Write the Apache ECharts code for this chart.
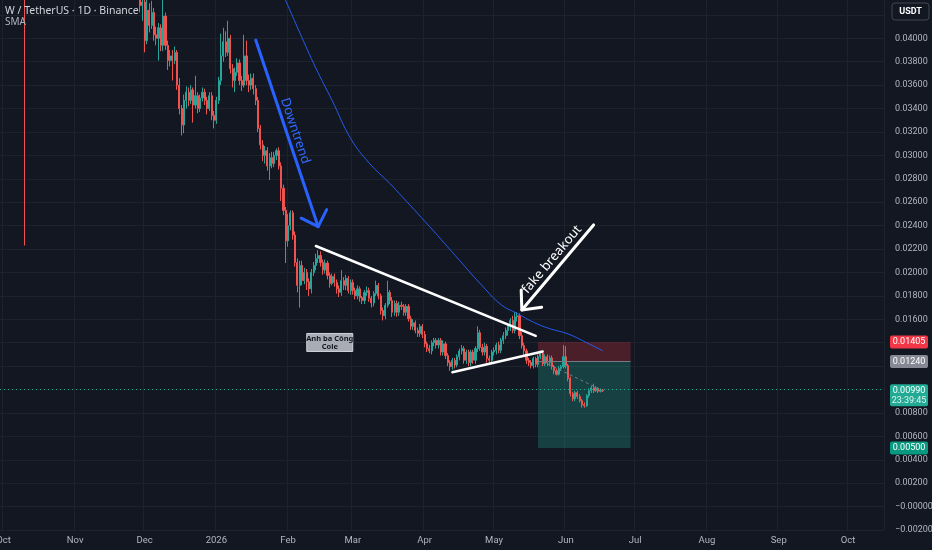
<!DOCTYPE html>
<html><head><meta charset="utf-8">
<script src="https://cdn.jsdelivr.net/npm/echarts@6/dist/echarts.min.js"></script>
<style>html,body{margin:0;padding:0;background:#131722;}#c{width:932px;height:550px;}</style>
</head><body><div id="c"></div>
<script>
// ---------- data ----------
const firstDay = [2025, 8, 30];   // 2025-09-30 (first category)
const dayCount = 382;             // through 2026-10-16
const monthLabels = ['Jan','Feb','Mar','Apr','May','Jun','Jul','Aug','Sep','Oct','Nov','Dec'];

// daily candles [open, close, low, high], starting 2025-09-30
const candles = [
[0.066,0.067,0.064,0.068],
[0.067,0.068,0.066,0.069],[0.068,0.070,0.067,0.071],[0.070,0.069,0.068,0.072],[0.069,0.071,0.068,0.072],
[0.071,0.070,0.069,0.072],[0.070,0.068,0.067,0.071],[0.068,0.066,0.065,0.069],[0.066,0.065,0.064,0.067],
[0.065,0.063,0.062,0.066],[0.063,0.050,0.0223,0.064],[0.050,0.053,0.048,0.054],[0.053,0.055,0.051,0.057],
[0.055,0.052,0.051,0.056],[0.052,0.053,0.050,0.054],[0.053,0.050,0.049,0.054],[0.050,0.048,0.047,0.051],
[0.048,0.047,0.045,0.049],[0.047,0.049,0.046,0.050],[0.049,0.051,0.048,0.052],[0.051,0.050,0.049,0.052],
[0.050,0.052,0.049,0.053],[0.052,0.051,0.050,0.053],[0.051,0.050,0.049,0.052],[0.050,0.052,0.049,0.053],
[0.052,0.053,0.051,0.054],[0.053,0.051,0.050,0.054],[0.051,0.050,0.049,0.052],[0.050,0.049,0.048,0.051],
[0.049,0.048,0.047,0.050],[0.048,0.049,0.047,0.050],[0.049,0.047,0.046,0.050],
[0.047,0.048,0.046,0.049],[0.048,0.046,0.045,0.049],[0.046,0.047,0.045,0.048],[0.047,0.049,0.046,0.050],
[0.049,0.050,0.048,0.051],[0.050,0.048,0.047,0.051],[0.048,0.049,0.047,0.050],[0.049,0.050,0.048,0.051],
[0.050,0.049,0.048,0.051],[0.049,0.051,0.048,0.052],[0.051,0.050,0.049,0.052],[0.050,0.049,0.048,0.051],
[0.049,0.048,0.047,0.050],[0.048,0.047,0.046,0.049],[0.047,0.046,0.045,0.048],[0.046,0.047,0.045,0.048],
[0.047,0.048,0.046,0.049],[0.048,0.047,0.046,0.049],[0.047,0.046,0.045,0.048],[0.046,0.047,0.045,0.048],
[0.047,0.046,0.045,0.048],[0.046,0.0455,0.0445,0.047],[0.0455,0.046,0.0448,0.047],[0.046,0.045,0.0442,0.0465],
[0.045,0.0455,0.0443,0.0462],[0.0455,0.0448,0.0440,0.046],[0.0448,0.0452,0.0441,0.0458],[0.0452,0.0440,0.0436,0.0456],
[0.0440,0.0428,0.0422,0.0445],[0.0428,0.0431,0.0415,0.0440],
[0.0431,0.0398,0.0388,0.0435],[0.0398,0.0424,0.0395,0.0433],[0.0424,0.0411,0.0405,0.0430],[0.0411,0.0422,0.0408,0.0432],
[0.0422,0.0403,0.0398,0.0426],[0.0403,0.0400,0.0394,0.0410],[0.0400,0.0409,0.0381,0.0413],[0.0409,0.0394,0.0389,0.0412],
[0.0394,0.0419,0.0389,0.0433],[0.0419,0.0394,0.0390,0.0422],[0.0394,0.0381,0.0373,0.0398],[0.0381,0.0385,0.0376,0.0390],
[0.0385,0.0381,0.0364,0.0390],[0.0381,0.0388,0.0378,0.0393],[0.0388,0.0360,0.0356,0.0390],[0.0360,0.0340,0.0335,0.0366],
[0.0340,0.0326,0.0317,0.0343],[0.0326,0.0347,0.0319,0.0352],[0.0347,0.0354,0.0340,0.0359],[0.0354,0.0347,0.0342,0.0358],
[0.0347,0.0356,0.0344,0.0360],[0.0356,0.0343,0.0328,0.0358],[0.0343,0.0351,0.0340,0.0368],[0.0351,0.0340,0.0336,0.0354],
[0.0340,0.0349,0.0337,0.0352],[0.0349,0.0354,0.0346,0.0358],[0.0354,0.0347,0.0343,0.0357],[0.0347,0.0340,0.0335,0.0350],
[0.0340,0.0351,0.0338,0.0354],[0.0351,0.0334,0.0330,0.0354],[0.0334,0.0330,0.0323,0.0338],
[0.0330,0.0347,0.0327,0.0350],[0.0347,0.0364,0.0344,0.0367],[0.0364,0.0385,0.0360,0.0404],[0.0385,0.0397,0.0380,0.0409],
[0.0397,0.0388,0.0384,0.0406],[0.0388,0.0400,0.0385,0.0415],[0.0400,0.0374,0.0370,0.0403],[0.0374,0.0364,0.0358,0.0378],
[0.0364,0.0371,0.0354,0.0375],[0.0371,0.0379,0.0368,0.0383],[0.0379,0.0364,0.0360,0.0382],[0.0364,0.0360,0.0355,0.0368],
[0.0360,0.0385,0.0358,0.0403],[0.0385,0.0364,0.0360,0.0398],[0.0364,0.0360,0.0354,0.0369],[0.0360,0.0366,0.0356,0.0370],
[0.0366,0.0357,0.0352,0.0370],[0.0357,0.0347,0.0343,0.0360],[0.0347,0.0323,0.0320,0.0350],[0.0323,0.0309,0.0305,0.0326],
[0.0309,0.0300,0.0295,0.0313],[0.0300,0.0304,0.0293,0.0308],[0.0304,0.0291,0.0287,0.0307],[0.0291,0.0298,0.0279,0.0302],
[0.0298,0.0293,0.0289,0.0303],[0.0293,0.0300,0.0290,0.0303],[0.0300,0.0304,0.0296,0.0306],[0.0304,0.0291,0.0288,0.0307],
[0.0291,0.0272,0.0261,0.0294],[0.0272,0.0253,0.0249,0.0275],[0.0253,0.0227,0.0208,0.0256],
[0.0227,0.0240,0.0222,0.0250],[0.0240,0.0251,0.0236,0.0253],[0.0251,0.0232,0.0228,0.0253],[0.0232,0.02085,0.0205,0.0235],
[0.02085,0.0189,0.0183,0.0212],[0.0189,0.0206,0.0170,0.0210],[0.0206,0.0193,0.0189,0.0210],[0.0193,0.0200,0.0190,0.0204],
[0.0200,0.0192,0.0185,0.0203],[0.0192,0.0186,0.0180,0.0195],[0.0186,0.0200,0.0182,0.0203],[0.0200,0.0206,0.0197,0.0209],
[0.0206,0.0212,0.0202,0.0216],[0.0212,0.02145,0.0208,0.0219],[0.02145,0.02085,0.0205,0.0218],[0.02085,0.0202,0.0198,0.0211],
[0.0202,0.0208,0.0199,0.0211],[0.0208,0.01975,0.0194,0.0210],[0.01975,0.01905,0.0187,0.0200],[0.01905,0.01965,0.0189,0.0199],
[0.01965,0.01915,0.0188,0.0199],[0.01915,0.0186,0.0182,0.0194],[0.0186,0.0183,0.0179,0.0189],[0.0183,0.0193,0.0180,0.0202],
[0.0193,0.0189,0.0185,0.0196],[0.0189,0.0195,0.0185,0.0198],[0.0195,0.01845,0.0182,0.0197],[0.01845,0.01915,0.0181,0.0194],
[0.01915,0.01845,0.0181,0.0194],[0.01845,0.0180,0.0177,0.0187],[0.0180,0.0186,0.0177,0.0189],[0.0186,0.01785,0.0175,0.0188],
[0.01785,0.0176,0.0173,0.0180],[0.0176,0.0183,0.0173,0.0185],[0.0183,0.01845,0.0180,0.0188],[0.01845,0.0178,0.0175,0.0187],
[0.0178,0.0174,0.0170,0.0180],[0.0174,0.0182,0.0171,0.0184],[0.0182,0.0189,0.0180,0.0193],[0.0189,0.0180,0.0177,0.0191],
[0.0180,0.01675,0.0164,0.0182],[0.01675,0.0163,0.0159,0.0170],[0.0163,0.0172,0.0160,0.0174],[0.0172,0.0183,0.0170,0.0193],
[0.0183,0.0176,0.0173,0.0185],[0.0176,0.0166,0.0162,0.0179],[0.0166,0.01735,0.0163,0.0176],[0.01735,0.0166,0.0162,0.0176],
[0.0166,0.0172,0.0163,0.0175],[0.0172,0.0171,0.0168,0.0175],[0.0171,0.0166,0.0163,0.0173],[0.0166,0.0171,0.0163,0.0173],
[0.0171,0.01605,0.0158,0.0173],[0.01605,0.0154,0.0151,0.0163],[0.0154,0.0157,0.0151,0.0160],[0.0157,0.01505,0.0148,0.0159],
[0.01505,0.0148,0.0145,0.0153],[0.0148,0.0154,0.0145,0.0156],[0.0154,0.0147,0.0144,0.0156],
[0.0147,0.0139,0.0136,0.0150],[0.0139,0.0135,0.0132,0.0141],[0.0135,0.0133,0.0131,0.0138],[0.0133,0.0140,0.0130,0.0142],
[0.0140,0.0142,0.0137,0.0144],[0.0142,0.0138,0.0135,0.0144],[0.0138,0.0142,0.0135,0.0144],[0.0142,0.0132,0.0129,0.0144],
[0.0132,0.0139,0.0129,0.0142],[0.0139,0.0129,0.0126,0.0141],[0.0129,0.0123,0.0120,0.0131],[0.0123,0.01195,0.0116,0.0125],
[0.01195,0.0125,0.0117,0.0127],[0.0125,0.0121,0.0118,0.0127],[0.0121,0.0128,0.0119,0.0130],[0.0128,0.0133,0.0125,0.0135],
[0.0133,0.0135,0.0130,0.0138],[0.0135,0.0125,0.0122,0.0137],[0.0125,0.0132,0.0122,0.0134],[0.0132,0.0123,0.0120,0.0134],
[0.0123,0.0132,0.0120,0.0134],[0.0132,0.0125,0.0122,0.0134],[0.0125,0.0135,0.0122,0.0137],[0.0135,0.01485,0.0132,0.0154],
[0.01485,0.0136,0.0133,0.0151],[0.0136,0.0132,0.0129,0.0139],[0.0132,0.0137,0.0129,0.0140],[0.0137,0.01265,0.0123,0.0139],
[0.01265,0.0125,0.0123,0.0129],[0.0125,0.0132,0.0122,0.0134],
[0.0132,0.01335,0.0129,0.0136],[0.01335,0.0138,0.0130,0.0140],[0.0138,0.01335,0.0131,0.0141],[0.01335,0.0142,0.0131,0.0144],
[0.0142,0.0146,0.0139,0.0149],[0.0146,0.01505,0.0143,0.0153],[0.01505,0.0154,0.0146,0.0156],[0.0154,0.0159,0.0150,0.0161],
[0.0159,0.01505,0.0148,0.0163],[0.01505,0.0162,0.0148,0.0166],[0.0162,0.0163,0.0158,0.0166],[0.0163,0.0146,0.0143,0.0165],
[0.0146,0.01375,0.0135,0.0149],[0.01375,0.0133,0.0129,0.0140],[0.0133,0.0125,0.0122,0.0135],[0.0125,0.0123,0.0120,0.0127],
[0.0123,0.01205,0.0118,0.0125],[0.01205,0.01265,0.0118,0.0128],[0.01265,0.01215,0.0119,0.0128],[0.01215,0.0128,0.0119,0.0130],
[0.0128,0.0131,0.0126,0.0133],[0.0131,0.0122,0.0120,0.0133],[0.0122,0.0128,0.0120,0.0130],[0.0128,0.0123,0.0120,0.0130],
[0.0123,0.0127,0.0120,0.0129],[0.0127,0.01195,0.0117,0.0129],[0.01195,0.0116,0.0113,0.0121],[0.0116,0.0113,0.0112,0.0118],
[0.0113,0.0118,0.0112,0.0120],[0.0118,0.01195,0.0116,0.0121],[0.01195,0.0128,0.0118,0.0138],
[0.0128,0.01205,0.0118,0.0137],[0.01205,0.01095,0.0107,0.0122],[0.01095,0.00965,0.0094,0.0111],[0.00965,0.0092,0.0090,0.0098],
[0.0092,0.00975,0.0090,0.0099],[0.00975,0.0094,0.0092,0.0099],[0.0094,0.00905,0.0089,0.0096],[0.00905,0.0087,0.00845,0.0092],
[0.0087,0.0086,0.00845,0.0089],[0.0086,0.0095,0.0085,0.0096],[0.0095,0.0099,0.0093,0.0101],[0.0099,0.01015,0.0097,0.0103],
[0.01015,0.0099,0.0097,0.0105],[0.0099,0.0101,0.0098,0.0103],[0.0101,0.00985,0.0097,0.0102],[0.00985,0.00995,0.00975,0.0101],
[0.00995,0.0099,0.0098,0.01005]
];

// SMA line [date, value]
const smaPoints = [
['2026-01-29',0.0440],['2026-01-31',0.0432],['2026-02-06',0.0405],['2026-02-13',0.03745],['2026-02-20',0.0347],
['2026-02-28',0.03145],['2026-03-08',0.02935],['2026-03-17',0.0276],['2026-03-21',0.02675],['2026-04-03',0.02395],
['2026-04-16',0.02105],['2026-04-25',0.01905],['2026-05-04',0.01725],['2026-05-11',0.0165],['2026-05-18',0.01575],
['2026-05-25',0.0152],['2026-06-02',0.01475],['2026-06-10',0.0140],['2026-06-17',0.0133]
];

// drawings (date, price)
const downtrendArrow = [['2026-01-18',0.03985],['2026-02-14',0.02391]];
const downtrendText = ['2026-02-04',0.0321];
const upperTrendline = [['2026-02-13',0.02226],['2026-05-19',0.01458]];
const lowerTrendline = [['2026-04-13',0.01148],['2026-05-22',0.01324]];
const fakeArrow = [['2026-06-13',0.02406],['2026-05-13',0.0168]];
const fakeText = ['2026-05-26',0.02110];
const noteLabel = ['2026-02-19',0.01402];
const positionBox = {start:'2026-05-20', end:'2026-06-29', entryDate:'2026-05-22', lastDate:'2026-06-17',
  stop:0.01405, entry:0.0124, target:0.005};
const lastPrice = 0.0099;
const priceTags = [
  {value:0.01405, text:'0.01405', color:'#f23645'},
  {value:0.0124, text:'0.01240', color:'#868993'},
  {value:0.0099, text:'0.00990', sub:'23:39:45', color:'#22ab94'},
  {value:0.005, text:'0.00500', color:'#089981'}
];

// ---------- build ----------
const categories = [];
for (let i = 0; i < dayCount; i++) {
  const d = new Date(Date.UTC(firstDay[0], firstDay[1], firstDay[2] + i));
  categories.push(d.toISOString().slice(0, 10));
}
const isMonthStart = (idx, val) => val.slice(8) === '01';
const UP = '#26a69a', DOWN = '#ef5350';
const FONT = '"Noto Sans", Roboto, sans-serif';
const AX = 'Roboto, "Noto Sans", sans-serif';

const chart = echarts.init(document.getElementById('c'), null, {renderer: 'canvas'});
chart.setOption({
  backgroundColor: '#131722',
  animation: false,
  grid: {left: 0, right: 48, top: -8.5, bottom: 20, outerBoundsMode: 'none'},
  xAxis: {
    type: 'category', data: categories, boundaryGap: true,
    axisLine: {show: false}, axisTick: {show: false, alignWithLabel: true},
    axisLabel: {
      interval: isMonthStart, color: '#b2b5be', fontSize: 9.5, fontFamily: AX, margin: 6,
      formatter: v => { const m = +v.slice(5, 7); return m === 1 ? v.slice(0, 4) : monthLabels[m - 1]; }
    },
    splitLine: {show: true, interval: isMonthStart, lineStyle: {color: '#1e222d', width: 1}}
  },
  yAxis: {
    type: 'value', position: 'right', min: -0.002, max: 0.044, interval: 0.002, scale: true,
    axisLine: {show: false}, axisTick: {show: false},
    axisLabel: {
      color: '#b2b5be', fontSize: 9, fontFamily: AX, margin: 11,
      formatter: v => (v <= 1e-12 ? '\u2212' : '') + Math.abs(v).toFixed(5)
    },
    splitLine: {lineStyle: {color: '#1e222d', width: 1}}
  },
  series: [
    {
      type: 'candlestick', data: candles, barWidth: '70%', clip: true,
      itemStyle: {color: UP, color0: DOWN, borderColor: UP, borderColor0: DOWN, borderWidth: 1},
      markArea: {
        silent: true,
        data: [
          [{xAxis: positionBox.start, yAxis: positionBox.stop, itemStyle: {color: 'rgba(242,54,69,0.25)'}},
           {xAxis: positionBox.end, yAxis: positionBox.entry}],
          [{xAxis: positionBox.start, yAxis: positionBox.entry, itemStyle: {color: 'rgba(34,171,148,0.28)'}},
           {xAxis: positionBox.end, yAxis: positionBox.target}]
        ]
      },
      markLine: {
        silent: true, symbol: ['none', 'none'], label: {show: false},
        data: [
          {yAxis: lastPrice, lineStyle: {color: '#22ab94', type: [1, 3], width: 1}},
          [{coord: [positionBox.start, positionBox.entry], lineStyle: {color: '#787b86', type: 'solid', width: 1}},
           {coord: [positionBox.end, positionBox.entry]}],
          [{coord: [positionBox.entryDate, positionBox.entry], lineStyle: {color: '#787b86', type: [3, 3], width: 1}},
           {coord: [positionBox.lastDate, lastPrice]}]
        ]
      }
    },
    {
      type: 'line', data: smaPoints, smooth: 0.4, symbol: 'none', clip: true,
      lineStyle: {color: '#2962ff', width: 1, opacity: 0.9}, z: 3
    }
  ]
});

// ---------- overlay drawings via the axes ----------
function px(pt) {
  const xi = categories.indexOf(pt[0]);
  return [chart.convertToPixel({xAxisIndex: 0}, xi), chart.convertToPixel({yAxisIndex: 0}, pt[1])];
}
function head(tip, from, len, deg) {
  const dx = from[0] - tip[0], dy = from[1] - tip[1], L = Math.hypot(dx, dy);
  const ux = dx / L, uy = dy / L, a = deg * Math.PI / 180, out = [];
  for (const s of [-1, 1]) {
    const c = Math.cos(s * a), sn = Math.sin(s * a);
    out.push([tip[0] + len * (ux * c - uy * sn), tip[1] + len * (ux * sn + uy * c)]);
  }
  return [out[0], tip, out[1]];
}
const g = [];
const seg = (a, b, color, w) => g.push({type: 'polyline', z: 50, shape: {points: [a, b]},
  style: {stroke: color, lineWidth: w, lineCap: 'round', fill: null}});

// blue downtrend arrow
const b0 = px(downtrendArrow[0]), b1 = px(downtrendArrow[1]);
seg(b0, b1, '#2962ff', 3);
g.push({type: 'polyline', z: 50, shape: {points: head(b1, b0, 19, 45)},
  style: {stroke: '#2962ff', lineWidth: 3, lineCap: 'round', lineJoin: 'round', fill: null}});
const dt = px(downtrendText);
g.push({type: 'text', z: 51, x: dt[0], y: dt[1], rotation: -Math.atan2(b1[1] - b0[1], b1[0] - b0[0]),
  style: {text: 'Downtrend', fill: '#2f6bff', font: '13px ' + FONT, textAlign: 'center', textVerticalAlign: 'middle'}});

// white trend lines
seg(px(upperTrendline[0]), px(upperTrendline[1]), '#ffffff', 2.5);
seg(px(lowerTrendline[0]), px(lowerTrendline[1]), '#ffffff', 2.5);

// fake breakout arrow
const w0 = px(fakeArrow[0]), w1 = px(fakeArrow[1]);
seg(w0, w1, '#ffffff', 3);
g.push({type: 'polyline', z: 50, shape: {points: head(w1, w0, 20, 42)},
  style: {stroke: '#ffffff', lineWidth: 3, lineCap: 'round', lineJoin: 'round', fill: null}});
const ft = px(fakeText);
g.push({type: 'text', z: 51, x: ft[0], y: ft[1], rotation: -Math.atan2(w0[1] - w1[1], w0[0] - w1[0]),
  style: {text: 'fake breakout', fill: '#ffffff', font: '13px ' + FONT, textAlign: 'center', textVerticalAlign: 'middle'}});

// note label
const nl = px(noteLabel);
g.push({type: 'rect', z: 52, shape: {x: nl[0] - 23, y: nl[1] - 9, width: 46, height: 18},
  style: {fill: '#a9acb4', stroke: '#d1d4dc', lineWidth: 1}});
g.push({type: 'text', z: 53, x: nl[0], y: nl[1] + 0.5,
  style: {text: 'Anh ba Công\nCole', fill: '#131722', font: 'bold 7.5px ' + FONT, lineHeight: 8.5,
    textAlign: 'center', textVerticalAlign: 'middle'}});

// price tags on the axis
priceTags.forEach(t => {
  const y = chart.convertToPixel({yAxisIndex: 0}, t.value);
  const h = t.sub ? 22 : 13;
  g.push({type: 'rect', z: 60, shape: {x: 890, y: y - 6.5, width: 38, height: h, r: 2}, style: {fill: t.color}});
  g.push({type: 'text', z: 61, x: 909, y: y, style: {text: t.text, fill: '#ffffff', font: '9px ' + AX,
    textAlign: 'center', textVerticalAlign: 'middle'}});
  if (t.sub) g.push({type: 'text', z: 61, x: 909, y: y + 10, style: {text: t.sub, fill: '#e0f2ef',
    font: '9px ' + AX, textAlign: 'center', textVerticalAlign: 'middle'}});
});

// header and unit box
g.push({type: 'text', z: 70, x: 5, y: 11, style: {text: 'W / TetherUS · 1D · Binance', fill: '#d1d4dc',
  font: '10.5px ' + FONT, textVerticalAlign: 'middle'}});
g.push({type: 'text', z: 70, x: 5, y: 22.5, style: {text: 'SMA', fill: '#b2b5be',
  font: '10px ' + FONT, textVerticalAlign: 'middle'}});
g.push({type: 'rect', z: 70, shape: {x: 892, y: 3, width: 37, height: 17, r: 3},
  style: {fill: '#131722', stroke: '#434651', lineWidth: 1}});
g.push({type: 'text', z: 71, x: 910.5, y: 11.5, style: {text: 'USDT', fill: '#ffffff',
  font: 'bold 9px ' + AX, textAlign: 'center', textVerticalAlign: 'middle'}});

chart.setOption({graphic: g});
</script></body></html>
